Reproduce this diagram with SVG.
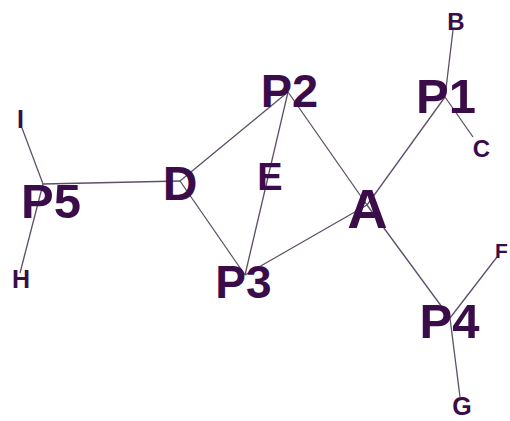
<svg xmlns="http://www.w3.org/2000/svg" width="510" height="421" viewBox="0 0 510 421">
<style>
.e{stroke:#5e4f66;stroke-width:1.3;fill:none}
.t{font-family:"Liberation Sans",Arial,sans-serif;font-weight:bold;fill:#3b0c4a;text-anchor:middle}
</style>
<rect width="510" height="421" fill="#ffffff"/>
<g id="edges">
<line class="e" x1="43" y1="184" x2="22" y2="128"/>
<line class="e" x1="43" y1="184" x2="20" y2="273"/>
<line class="e" x1="43" y1="184" x2="180" y2="181"/>
<line class="e" x1="180" y1="181" x2="288" y2="92"/>
<line class="e" x1="180" y1="181" x2="245" y2="275"/>
<line class="e" x1="288" y1="92" x2="245" y2="275"/>
<line class="e" x1="288" y1="92" x2="367" y2="205"/>
<line class="e" x1="245" y1="275" x2="367" y2="205"/>
<line class="e" x1="367" y1="205" x2="445" y2="97"/>
<line class="e" x1="367" y1="205" x2="450" y2="318"/>
<line class="e" x1="445" y1="97" x2="453" y2="30"/>
<line class="e" x1="445" y1="97" x2="473" y2="137"/>
<line class="e" x1="450" y1="318" x2="497" y2="257"/>
<line class="e" x1="450" y1="318" x2="460" y2="397"/>
</g>
<g id="P5"><text class="t" x="51" y="218" font-size="49">P5</text></g>
<g id="I"><text class="t" x="20.5" y="128" font-size="25">I</text></g>
<g id="H"><text class="t" x="21" y="288" font-size="25">H</text></g>
<g id="D"><text class="t" x="180" y="200" font-size="48">D</text></g>
<g id="P2"><text class="t" x="289.5" y="107" font-size="47">P2</text></g>
<g id="E"><text class="t" x="270" y="190" font-size="38">E</text></g>
<g id="P3"><text class="t" x="243.5" y="298" font-size="46">P3</text></g>
<g id="A"><text class="t" x="367.5" y="228" font-size="56">A</text></g>
<g id="P1"><text class="t" x="446" y="113" font-size="49">P1</text></g>
<g id="B"><text class="t" x="456" y="30" font-size="24">B</text></g>
<g id="C"><text class="t" x="481.5" y="157" font-size="24">C</text></g>
<g id="P4"><text class="t" x="449.5" y="338" font-size="49">P4</text></g>
<g id="F"><text class="t" x="501.5" y="258" font-size="21">F</text></g>
<g id="G"><text class="t" x="462" y="415" font-size="25">G</text></g>
</svg>
